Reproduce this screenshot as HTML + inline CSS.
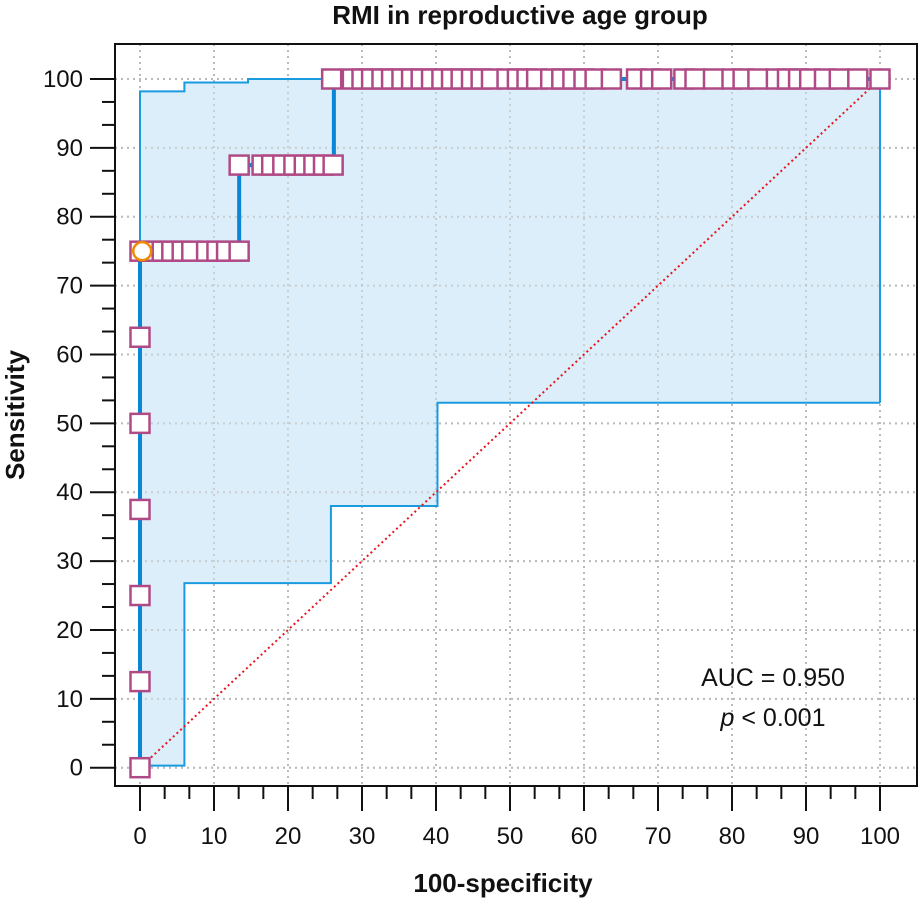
<!DOCTYPE html>
<html><head><meta charset="utf-8"><style>
body{margin:0;background:#fff}
svg text{font-family:"Liberation Sans",sans-serif;fill:#111}
</style></head><body>
<svg id="chart" width="918" height="900" xmlns="http://www.w3.org/2000/svg"></svg>
<script>
const xTicks=[0,10,20,30,40,50,60,70,80,90,100];
const yTicks=[0,10,20,30,40,50,60,70,80,90,100];
const rocX=[0,0,13.4,13.4,26.2,26.2,100];
const rocY=[0,75,75,87.5,87.5,100,100];
const upX=[0,0,6,6,14.6,14.6,100,100];
const upY=[0,98.2,98.2,99.5,99.5,100,100,53];
const loX=[100,40.2,40.2,25.8,25.8,6,6,0];
const loY=[53,53,38,38,26.8,26.8,0.3,0.3];
const mkY0=[0,12.5,25,37.5,50,62.5];
const mk75=[0,1.6,3.0,4.3,5.7,7.0,9.0,10.4,11.7,13.4];
const mk875=[13.4,16.5,17.8,19.3,20.8,22.2,23.5,24.8,26.1];
const mk100=[25.9,28.7,30,31.3,32.7,34,35.4,36.7,38,39.4,40.8,42.1,43.4,44.8,46.1,47.5,49.6,51,52.3,53.6,55.5,57,58.5,60,61.5,63.7,67.1,69,70.5,73.5,75,77.5,80,81.5,83.5,86,87.5,89,90.5,92.5,94.5,97,100];
const sx=v=>140+v*7.4, sy=v=>767.7-v*6.887;
const svg=document.getElementById('chart');const NS='http://www.w3.org/2000/svg';
function el(t,a,p){const e=document.createElementNS(NS,t);for(const k in a)e.setAttribute(k,a[k]);(p||svg).appendChild(e);return e;}
const L=115,T=44,R=917,B=786;
// grid
xTicks.forEach(v=>{const g=el('line',{x1:sx(v),x2:sx(v),y1:T,y2:B,stroke:'#bbb','stroke-width':2,'stroke-dasharray':'2,4'});

});
yTicks.forEach(v=>{const g=el('line',{x1:L,x2:R,y1:sy(v),y2:sy(v),stroke:'#bbb','stroke-width':2,'stroke-dasharray':'2,4'});

});
// band
let pts=upX.map((x,i)=>sx(x)+','+sy(upY[i])).concat(loX.map((x,i)=>sx(x)+','+sy(loY[i])));
const band=el('polygon',{points:pts.join(' '),fill:'#dbeef9',stroke:'none'});


// grid again over band lightly
xTicks.forEach(v=>el('line',{x1:sx(v),x2:sx(v),y1:T,y2:B,stroke:'#bbb','stroke-width':2,'stroke-dasharray':'2,4','opacity':0.6}));
yTicks.forEach(v=>el('line',{x1:L,x2:R,y1:sy(v),y2:sy(v),stroke:'#bbb','stroke-width':2,'stroke-dasharray':'2,4','opacity':0.6}));
const up=el('polyline',{points:upX.map((x,i)=>sx(x)+','+sy(upY[i])).join(' '),fill:'none',stroke:'#1a9be0','stroke-width':2});


const lo=el('polyline',{points:loX.map((x,i)=>sx(x)+','+sy(loY[i])).join(' '),fill:'none',stroke:'#1a9be0','stroke-width':2});


const diag=el('line',{x1:sx(0),y1:sy(0),x2:sx(100),y2:sy(100),stroke:'#e8141e','stroke-width':2,'stroke-dasharray':'2,3'});


const roc=el('polyline',{points:rocX.map((x,i)=>sx(x)+','+sy(rocY[i])).join(' '),fill:'none',stroke:'#0a86d6','stroke-width':4});


function sq(x,y){const s=el('rect',{x:sx(x)-9.5,y:sy(y)-9.5,width:19,height:19,fill:'#fff',stroke:'#b04a86','stroke-width':2.5});

}
mkY0.forEach(y=>sq(0,y));
mk75.forEach(x=>sq(x,75));
mk875.forEach(x=>sq(x,87.5));
mk100.forEach(x=>sq(x,100));
const c=el('circle',{cx:sx(0.3),cy:sy(75),r:9,fill:'#fff',stroke:'#f08a00','stroke-width':2.5});


// frame
const fr=el('rect',{x:L,y:T,width:R-L,height:B-T,fill:'none',stroke:'#111','stroke-width':2});


// ticks
for(let i=0;i<=30;i++){const v=i*10/3;const maj=i%3==0;
el('line',{x1:sx(v),x2:sx(v),y1:B,y2:B+(maj?25:13),stroke:'#111','stroke-width':2});
el('line',{x1:L,x2:L-(maj?25:13),y1:sy(v),y2:sy(v),stroke:'#111','stroke-width':2});}
xTicks.forEach(v=>{const t=el('text',{x:sx(v),y:844,'text-anchor':'middle','font-size':24});t.textContent=v;

});
yTicks.forEach(v=>{const t=el('text',{x:83,y:sy(v)+8,'text-anchor':'end','font-size':24});t.textContent=v;

});
</script>
<svg style="position:absolute;left:0;top:0" width="918" height="900" xmlns="http://www.w3.org/2000/svg">
<text x="520" y="24" text-anchor="middle" font-size="26" font-weight="bold">RMI in reproductive age group</text>
<text x="503" y="892" text-anchor="middle" font-size="26" font-weight="bold">100-specificity</text>
<text transform="translate(24,415) rotate(-90)" text-anchor="middle" font-size="26" font-weight="bold">Sensitivity</text>
<text x="773" y="686" text-anchor="middle" font-size="25">AUC = 0.950</text>
<text x="773" y="726" text-anchor="middle" font-size="25"><tspan font-style="italic">p</tspan> &lt; 0.001</text>
</svg>
</body></html>
